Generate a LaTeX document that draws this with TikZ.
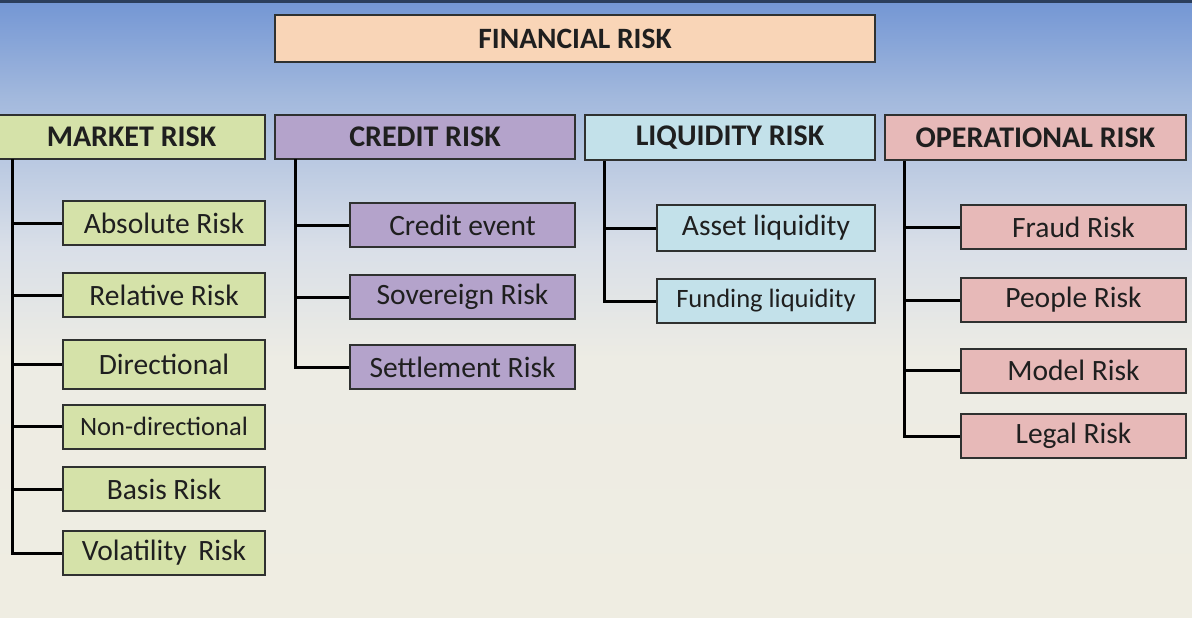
\documentclass[tikz,border=0pt]{standalone}
\usepackage{fontspec}
\setmainfont{Carlito}
\usepackage{tikz}
\usepackage{xcolor}
\definecolor{sky-top}{HTML}{7396D4}
\definecolor{sky-mid}{HTML}{A3B9DD}
\definecolor{sky-low}{HTML}{D9DFE8}
\definecolor{sand}{HTML}{EDECE4}
\definecolor{sand-low}{HTML}{EFEDE2}
\definecolor{peach}{HTML}{F9D5B7}
\definecolor{market-fill}{HTML}{D5E2A9}
\definecolor{credit-fill}{HTML}{B4A3CB}
\definecolor{liquid-fill}{HTML}{C3E1EA}
\definecolor{oper-fill}{HTML}{E7B9B8}
\definecolor{box-line}{HTML}{2F3130}
\pgfdeclareverticalshading{sky-fade}{100bp}{color(0bp)=(sand-low); color(25bp)=(sand-low); color(46bp)=(sand); color(55bp)=(sky-low); color(67bp)=(sky-mid); color(75bp)=(sky-top); color(100bp)=(sky-top)}
\tikzset{
    risk-box/.style = {draw=box-line, line width=2pt, rectangle, inner sep=0pt, text=black!88, font=\fontsize{29.5}{34}\selectfont},
    head-box/.style = {risk-box, minimum height=44pt, font=\fontsize{30}{34}\selectfont\bfseries},
    leaf-box/.style = {risk-box, minimum height=44pt},
    small-text/.style = {font=\fontsize{26.5}{30}\selectfont},
    link-line/.style = {draw=black, line width=3pt},
}

\begin{document}
\begin{tikzpicture}[x=1pt,y=-1pt]
\useasboundingbox (0,0) rectangle (1192,618);
\shade[shading=sky-fade] (0,0) rectangle (1192,618);
\fill[fill={rgb,255:red,43;green,62;blue,92}] (0,0) rectangle (1192,3);

\node[head-box, fill=peach, minimum width=600pt, minimum height=47pt, font=\fontsize{29.5}{34}\selectfont\bfseries] (fin) at (575,38.5) {FINANCIAL RISK};

\node[head-box, fill=market-fill, minimum width=267pt] (market) at (131.5,136.5) {MARKET RISK};
\node[head-box, fill=credit-fill, minimum width=300pt] (credit) at (425,136.5) {CREDIT RISK};
\node[head-box, fill=liquid-fill, minimum width=290pt, minimum height=45pt] (liquid) at (730,137.5) {LIQUIDITY RISK};
\node[head-box, fill=oper-fill, minimum width=301pt, minimum height=45pt] (oper) at (1035.5,137.5) {OPERATIONAL RISK};

\node[leaf-box, fill=market-fill, minimum width=202pt] (absolute) at (164,223) {Absolute Risk};
\node[leaf-box, fill=market-fill, minimum width=202pt] (relative) at (164,295) {Relative Risk};
\node[leaf-box, fill=market-fill, minimum width=202pt, minimum height=49pt] (directional) at (164,364.5) {Directional};
\node[leaf-box, fill=market-fill, minimum width=202pt, small-text] (nondirectional) at (164,426.5) {Non-directional};
\node[leaf-box, fill=market-fill, minimum width=202pt] (basis) at (164,489) {Basis Risk};
\node[leaf-box, fill=market-fill, minimum width=202pt] (volatility) at (164,553) {Volatility\, Risk};

\node[leaf-box, fill=credit-fill, minimum width=225pt] (event) at (462.5,225) {Credit event};
\node[leaf-box, fill=credit-fill, minimum width=225pt] (sovereign) at (462.5,297) {Sovereign Risk};
\node[leaf-box, fill=credit-fill, minimum width=225pt] (settlement) at (462.5,367) {Settlement Risk};

\node[leaf-box, fill=liquid-fill, minimum width=218pt, minimum height=46pt] (asset) at (766,228) {Asset liquidity};
\node[leaf-box, fill=liquid-fill, minimum width=218pt, small-text] (funding) at (766,301) {Funding liquidity};

\node[leaf-box, fill=oper-fill, minimum width=225pt] (fraud) at (1073.5,227) {Fraud Risk};
\node[leaf-box, fill=oper-fill, minimum width=225pt] (people) at (1073.5,300) {People Risk};
\node[leaf-box, fill=oper-fill, minimum width=225pt] (model) at (1073.5,370.5) {Model Risk};
\node[leaf-box, fill=oper-fill, minimum width=225pt] (legal) at (1073.5,436) {Legal Risk};

\coordinate (market-trunk) at (12,159);
\coordinate (credit-trunk) at (295,159);
\coordinate (liquid-trunk) at (604,161);
\coordinate (oper-trunk) at (904,161);

\draw[link-line] (market-trunk) |- (volatility.west);
\foreach \leaf in {absolute,relative,directional,nondirectional,basis}
    \draw[link-line] (\leaf.west) -- (\leaf.west -| market-trunk);
\draw[link-line] (credit-trunk) |- (settlement.west);
\foreach \leaf in {event,sovereign}
    \draw[link-line] (\leaf.west) -- (\leaf.west -| credit-trunk);
\draw[link-line] (liquid-trunk) |- (funding.west);
\draw[link-line] (asset.west) -- (asset.west -| liquid-trunk);
\draw[link-line] (oper-trunk) |- (legal.west);
\foreach \leaf in {fraud,people,model}
    \draw[link-line] (\leaf.west) -- (\leaf.west -| oper-trunk);
\end{tikzpicture}
\end{document}
